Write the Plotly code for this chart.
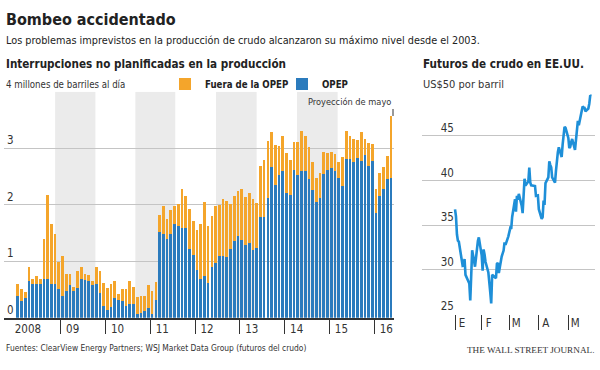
import plotly.graph_objects as go

# ---------------- data ----------------
meses = [f"{y}-{m:02d}" for y in range(2008, 2017) for m in range(1, 13)][:101]
anios = ["2008", "09", "10", "11", "12", "13", "14", "15", "16"]

opep = [0.38, 0.30, 0.34, 0.65, 0.59, 0.59, 0.59, 0.69, 0.69, 0.59, 0.59, 0.50,
        0.38, 0.48, 0.58, 0.47, 0.53, 0.69, 0.66, 0.65, 0.58, 0.59, 0.43, 0.21,
        0.14, 0.19, 0.34, 0.32, 0.30, 0.21, 0.24, 0.24, 0.06, 0.09, 0.11, 0.18,
        0.06, 0.32, 1.52, 1.48, 1.39, 1.49, 1.66, 1.62, 1.59, 1.59, 1.22, 1.11,
        0.84, 0.69, 0.74, 0.62, 0.89, 0.96, 1.09, 1.10, 1.08, 1.21, 1.36, 1.45,
        1.38, 1.29, 1.32, 1.19, 1.23, 1.79, 1.79, 2.12, 2.67, 2.35, 2.53, 2.60,
        2.21, 2.17, 2.61, 2.53, 2.60, 2.60, 2.45, 2.26, 2.04, 2.11, 2.54, 2.62,
        2.65, 2.59, 2.48, 2.33, 2.81, 2.81, 2.75, 2.82, 2.78, 2.88, 2.69, 2.78,
        1.86, 2.16, 2.27, 2.46, 2.48]

fuera_opep = [0.21, 0.20, 0.11, 0.25, 0.10, 0.15, 0.10, 0.71, 1.49, 1.06, 0.90, 0.49,
              0.71, 0.29, 0.20, 0.08, 0.29, 0.20, 0.11, 0.10, 0.07, 0.31, 0.39, 0.40,
              0.39, 0.40, 0.31, 0.10, 0.20, 0.29, 0.41, 0.31, 0.30, 0.29, 0.27, 0.40,
              0.41, 0.32, 0.30, 0.49, 0.36, 0.41, 0.31, 0.40, 0.69, 0.57, 0.70, 0.60,
              0.71, 0.97, 1.30, 1.00, 0.91, 1.01, 0.91, 1.00, 0.99, 0.80, 0.80, 0.80,
              0.89, 0.84, 0.89, 0.91, 0.80, 0.90, 1.00, 1.01, 0.62, 0.71, 0.51, 0.62,
              0.70, 0.62, 0.50, 0.58, 0.70, 0.61, 0.57, 0.50, 0.43, 0.45, 0.39, 0.29,
              0.29, 0.30, 0.27, 0.51, 0.50, 0.41, 0.41, 0.32, 0.50, 0.29, 0.41, 0.30,
              0.41, 0.40, 0.39, 0.40, 1.09]

fechas_crudo = [
    "2016-01-04", "2016-01-05", "2016-01-06", "2016-01-07", "2016-01-08", "2016-01-11",
    "2016-01-12", "2016-01-13", "2016-01-14", "2016-01-15", "2016-01-19", "2016-01-20",
    "2016-01-21", "2016-01-22", "2016-01-25", "2016-01-26", "2016-01-27", "2016-01-28",
    "2016-01-29",
    "2016-02-01", "2016-02-02", "2016-02-03", "2016-02-04", "2016-02-05", "2016-02-08",
    "2016-02-09", "2016-02-10", "2016-02-11", "2016-02-12", "2016-02-16", "2016-02-17",
    "2016-02-18", "2016-02-19", "2016-02-22", "2016-02-23", "2016-02-24", "2016-02-25",
    "2016-02-26", "2016-02-29",
    "2016-03-01", "2016-03-02", "2016-03-03", "2016-03-04", "2016-03-07", "2016-03-08",
    "2016-03-09", "2016-03-10", "2016-03-11", "2016-03-14", "2016-03-15", "2016-03-16",
    "2016-03-17", "2016-03-18", "2016-03-21", "2016-03-22", "2016-03-23", "2016-03-24",
    "2016-03-28", "2016-03-29", "2016-03-30", "2016-03-31",
    "2016-04-01", "2016-04-04", "2016-04-05", "2016-04-06", "2016-04-07", "2016-04-08",
    "2016-04-11", "2016-04-12", "2016-04-13", "2016-04-14", "2016-04-15", "2016-04-18",
    "2016-04-19", "2016-04-20", "2016-04-21", "2016-04-22", "2016-04-25", "2016-04-26",
    "2016-04-27", "2016-04-28", "2016-04-29",
    "2016-05-02", "2016-05-03", "2016-05-04", "2016-05-05", "2016-05-06", "2016-05-09",
    "2016-05-10", "2016-05-11", "2016-05-12", "2016-05-13", "2016-05-16", "2016-05-17",
    "2016-05-18", "2016-05-19", "2016-05-20", "2016-05-23", "2016-05-24", "2016-05-25",
    "2016-05-26"]

precio_crudo = [
    36.76, 35.97, 33.97, 33.27, 33.16, 31.41, 30.44, 30.48, 31.20, 29.42, 28.46, 26.55,
    29.53, 32.19, 30.34, 31.45, 32.30, 33.22, 33.62,
    31.62, 29.88, 32.28, 31.72, 30.89, 29.69, 27.94, 27.45, 26.21, 29.44, 29.04, 30.66,
    30.77, 29.64, 31.48, 31.87, 32.15, 33.07, 32.78, 33.75,
    34.40, 34.66, 34.57, 35.92, 37.90, 36.50, 38.29, 37.84, 38.50, 37.18, 36.34, 38.46,
    40.20, 39.44, 39.91, 41.45, 39.79, 39.46, 39.39, 38.28, 38.32, 38.34,
    36.79, 35.70, 35.89, 37.75, 37.26, 39.72, 40.36, 42.17, 41.76, 41.50, 40.36, 39.78,
    41.08, 42.63, 43.18, 43.73, 42.64, 44.04, 45.33, 46.03, 45.92,
    44.78, 43.65, 43.78, 44.32, 44.66, 43.44, 44.66, 46.23, 46.70, 46.21, 47.72, 48.31,
    48.19, 48.16, 47.75, 48.08, 48.62, 49.56, 49.48]

meses_crudo = ["E", "F", "M", "A", "M"]

# ---------------- styles ----------------
W, H = 600, 370
FONT = "DejaVu Sans Condensed, Liberation Sans Narrow, Arial Narrow, sans-serif"
BLUE = "#2b7bbd"
ORANGE = "#f4a52b"
LINE_BLUE = "#1e8fd8"
GRID = "#c4c4c4"
TXT = "#222222"
SUB = "#333333"


def px_x(p):
    return p / W


def px_y(p):
    return 1 - p / H


x_idx = list(range(len(meses)))
totales = [o + f for o, f in zip(opep, fuera_opep)]
limites_anio = [i - 0.5 for i, m in enumerate(meses) if m.endswith("-01")]

# first trading day of each month (tick marks on price chart)
ticks_crudo = []
for d in fechas_crudo:
    if not ticks_crudo or ticks_crudo[-1][:7] != d[:7]:
        ticks_crudo.append(d)

fig = go.Figure()

fig.add_trace(go.Bar(x=x_idx, y=opep, name="OPEP", marker=dict(color=BLUE, line_width=0),
                     xaxis="x", yaxis="y", hoverinfo="skip"))
fig.add_trace(go.Bar(x=x_idx, y=fuera_opep, name="Fuera de la OPEP",
                     marker=dict(color=ORANGE, line_width=0),
                     xaxis="x", yaxis="y", hoverinfo="skip"))
fig.add_trace(go.Scatter(x=fechas_crudo, y=precio_crudo, mode="lines",
                         line=dict(color=LINE_BLUE, width=2.6), showlegend=False,
                         xaxis="x2", yaxis="y2", hoverinfo="skip"))

# grey alternating bands (month-index units)
bandas = [(10.0, 20.8), (31.5, 42.2), (53.1, 64.0), (74.8, 85.7)]
shapes = []
for a, b in bandas:
    shapes.append(dict(type="rect", xref="x", yref="y", x0=a, x1=b, y0=0, y1=4,
                       fillcolor="#ebebeb", line_width=0, layer="below"))

annotations = [
    dict(text="<b>Bombeo accidentado</b>", x=px_x(4), y=px_y(19), xref="paper", yref="paper",
         xanchor="left", yanchor="middle", showarrow=False,
         font=dict(family=FONT, size=16, color=TXT)),
    dict(text="Los problemas imprevistos en la producción de crudo alcanzaron su máximo nivel desde el 2003.",
         x=px_x(4), y=px_y(40), xref="paper", yref="paper", xanchor="left", yanchor="middle",
         showarrow=False, font=dict(family=FONT, size=10.8, color=TXT)),
    dict(text="<b>Interrupciones no planificadas en la producción</b>", x=px_x(4), y=px_y(64),
         xref="paper", yref="paper", xanchor="left", yanchor="middle", showarrow=False,
         font=dict(family=FONT, size=11.6, color=TXT)),
    dict(text="<b>Futuros de crudo en EE.UU.</b>", x=px_x(421), y=px_y(64),
         xref="paper", yref="paper", xanchor="left", yanchor="middle", showarrow=False,
         font=dict(family=FONT, size=11.6, color=TXT)),
    dict(text="4 millones de barriles al día", x=px_x(4), y=px_y(84),
         xref="paper", yref="paper", xanchor="left", yanchor="middle", showarrow=False,
         font=dict(family=FONT, size=9.6, color=SUB)),
    dict(text="US$50 por barril", x=px_x(421), y=px_y(84),
         xref="paper", yref="paper", xanchor="left", yanchor="middle", showarrow=False,
         font=dict(family=FONT, size=11, color=SUB)),
    dict(text="Proyección de mayo", x=x_idx[-1], y=totales[-1], xref="x", yref="y",
         showarrow=True, arrowhead=0, arrowwidth=1, arrowcolor="#333333", ax=0, ay=-7,
         standoff=0, xanchor="right", yanchor="bottom", xshift=2,
         font=dict(family=FONT, size=9.2, color=SUB)),
    dict(text="Fuentes: ClearView Energy Partners; WSJ Market Data Group (futuros del crudo)",
         x=px_x(4), y=px_y(348), xref="paper", yref="paper", xanchor="left", yanchor="middle",
         showarrow=False, font=dict(family=FONT, size=8.4, color=SUB)),
    dict(text="THE WALL STREET JOURNAL.", x=px_x(596), y=px_y(350), xref="paper", yref="paper",
         xanchor="right", yanchor="middle", showarrow=False,
         font=dict(family="Liberation Serif, DejaVu Serif, serif", size=9.2, color=SUB)),
]

fig.update_layout(
    width=W, height=H,
    margin=dict(l=0, r=0, t=0, b=0),
    paper_bgcolor="white", plot_bgcolor="rgba(0,0,0,0)",
    barmode="stack", bargap=0.28,
    font=dict(family=FONT, size=12, color=SUB),
    showlegend=True,
    legend=dict(orientation="h", x=px_x(165), y=px_y(84), xanchor="left", yanchor="middle",
                traceorder="reversed", font=dict(family=FONT, size=9.6, color=TXT, weight="bold"),
                bgcolor="rgba(0,0,0,0)", itemwidth=30, entrywidthmode="pixels", entrywidth=72,
                itemclick=False, itemdoubleclick=False),
    xaxis=dict(domain=[px_x(4), px_x(394)], range=[-3.69, 100.8], showgrid=False,
               zeroline=False, showline=True, linecolor="#333333", linewidth=1.5,
               tickmode="array", tickvals=limites_anio, ticktext=anios, ticks="",
               ticklabelshift=12, tickfont=dict(family=FONT, size=11.5, color=SUB),
               minor=dict(tickmode="array", tickvals=limites_anio[1:], ticks="outside",
                          ticklen=15, tickwidth=1.2, tickcolor="#333333", showgrid=False),
               fixedrange=True),
    yaxis=dict(domain=[px_y(317.7), px_y(91.7)], range=[0, 4], anchor="x",
               tickmode="array", tickvals=[0, 1, 2, 3, 4],
               ticktext=["0", "1", "2", "3", ""],
               ticklabelposition="inside top", ticks="", showgrid=True, gridcolor=GRID,
               gridwidth=1, zeroline=False, showline=False,
               tickfont=dict(family=FONT, size=11.5, color=SUB), fixedrange=True),
    xaxis2=dict(domain=[px_x(421.7), px_x(595)], type="date",
                range=["2015-11-30", "2016-05-30"], anchor="y2", showgrid=False,
                zeroline=False, showline=False,
                tickmode="array", tickvals=ticks_crudo, ticktext=meses_crudo, ticks="",
                ticklabelshift=7, tickfont=dict(family=FONT, size=11.5, color=SUB),
                minor=dict(tickmode="array", tickvals=ticks_crudo, ticks="outside",
                           ticklen=15, tickwidth=1.2, tickcolor="#333333", showgrid=False),
                fixedrange=True),
    yaxis2=dict(domain=[px_y(314.3), px_y(91.4)], range=[25, 50], anchor="x2",
                tickmode="array", tickvals=[25, 30, 35, 40, 45, 50],
                ticktext=["25", "30", "35", "40", "45", ""],
                ticklabelposition="inside top", ticklabelstandoff=16, ticks="",
                showgrid=True, gridcolor=GRID, gridwidth=1, zeroline=False, showline=False,
                tickfont=dict(family=FONT, size=11.5, color=SUB), fixedrange=True),
    shapes=shapes,
    annotations=annotations,
)

fig.write_html("out.html", config={"displayModeBar": False},
               post_script="document.body.style.margin='0';")
